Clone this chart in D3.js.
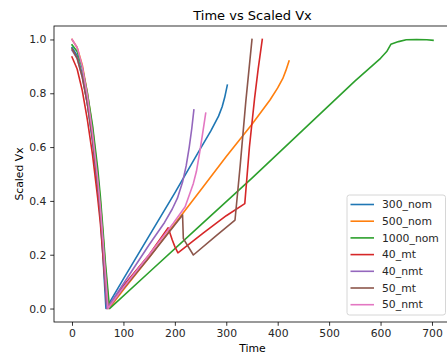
<!DOCTYPE html>
<html>
<head>
<meta charset="utf-8">
<script src="https://cdn.jsdelivr.net/npm/d3@7"></script>
<style>
  body { margin: 0; background: #fff; }
  svg { font-family: "DejaVu Sans", sans-serif; }
</style>
</head>
<body>
<div id="chart"></div>
<script>
// series names, in legend order
var seriesNames = ["300_nom", "500_nom", "1000_nom", "40_mt", "40_nmt", "50_mt", "50_nmt"];
var seriesColors = ["#1f77b4", "#ff7f0e", "#2ca02c", "#d62728", "#9467bd", "#8c564b", "#e377c2"];

// [time, scaled vx]
var nom300 = [[0,0.97],[10,0.94],[20,0.87],[30,0.76],[40,0.62],[50,0.44],[55,0.34],[60,0.2],[66,0],
  [100,0.11],[150,0.27],[200,0.43],[250,0.595],[270,0.66],[285,0.715],[292,0.75],[297,0.785],[302,0.83]];
var nom500 = [[0,1.0],[10,0.97],[20,0.905],[30,0.8],[40,0.67],[50,0.5],[55,0.4],[60,0.28],[65,0.15],[72,0],
  [100,0.07],[150,0.19],[200,0.315],[250,0.44],[300,0.565],[350,0.685],[385,0.775],[400,0.82],[410,0.855],[416,0.885],[422,0.92]];
var nom1000 = [[0,0.98],[10,0.955],[20,0.895],[30,0.8],[40,0.68],[50,0.52],[55,0.42],[60,0.3],[65,0.17],[73,0],
  [150,0.135],[250,0.31],[350,0.485],[450,0.665],[550,0.845],[600,0.93],[612,0.955],[620,0.982],[635,0.992],[650,0.999],[670,1.0],[690,0.999],[702,0.997]];
var mt40 = [[0,0.935],[10,0.89],[20,0.81],[30,0.7],[40,0.57],[50,0.41],[55,0.32],[60,0.2],[68,0],
  [100,0.085],[150,0.2],[187,0.3],[195,0.255],[200,0.23],[206,0.207],[255,0.28],[300,0.345],[336,0.39],[345,0.6],[355,0.78],[362,0.89],[370,1.0]];
var nmt40 = [[0,0.96],[10,0.93],[20,0.86],[30,0.76],[40,0.63],[50,0.46],[55,0.36],[60,0.24],[68,0],
  [100,0.092],[150,0.237],[180,0.32],[195,0.37],[205,0.41],[215,0.47],[222,0.53],[228,0.6],[233,0.67],[237,0.738]];
var mt50 = [[0,0.965],[10,0.93],[20,0.86],[30,0.76],[40,0.63],[50,0.46],[55,0.36],[60,0.24],[70,0],
  [100,0.075],[150,0.19],[215,0.348],[216.5,0.26],[236,0.199],[280,0.27],[317,0.329],[327,0.53],[338,0.77],[350,1.0]];
var nmt50 = [[0,1.0],[10,0.97],[20,0.9],[30,0.79],[40,0.65],[50,0.48],[55,0.38],[60,0.26],[70,0],
  [100,0.078],[150,0.2],[197,0.317],[220,0.378],[236,0.465],[242,0.51],[248,0.577],[254,0.65],[260,0.726]];

var seriesValues = [nom300, nom500, nom1000, mt40, nmt40, mt50, nmt50];

var xTicks = [0, 100, 200, 300, 400, 500, 600, 700];
var yTicks = [0.0, 0.2, 0.4, 0.6, 0.8, 1.0];

var width = 447, height = 356;
var margin = {top: 26, left: 54, right: 451, bottom: 322};
var fontSize = "10.8px";

var svg = d3.select("#chart")
    .append("svg")
    .attr("width", width)
    .attr("height", height);

var x = d3.scaleLinear().domain([-35, 737]).range([margin.left, margin.right]);
var y = d3.scaleLinear().domain([-0.05, 1.05]).range([margin.bottom, margin.top]);

// lines
var line = d3.line()
    .x(function (d) { return x(d[0]); })
    .y(function (d) { return y(d[1]); });

var plot = svg.append("g");
seriesValues.forEach(function (vals, i) {
    plot.append("path")
        .datum(vals)
        .attr("d", line)
        .attr("fill", "none")
        .attr("stroke", seriesColors[i])
        .attr("stroke-width", 1.6)
        .attr("stroke-linejoin", "round")
        .attr("stroke-linecap", "square");
});

// axes
var xAxis = svg.append("g")
    .attr("transform", "translate(0," + margin.bottom + ")")
    .call(d3.axisBottom(x).tickValues(xTicks).tickSize(3.8).tickPadding(3.8).tickFormat(d3.format("d")));
var yAxis = svg.append("g")
    .attr("transform", "translate(" + margin.left + ",0)")
    .call(d3.axisLeft(y).tickValues(yTicks).tickSize(3.8).tickPadding(3.8).tickFormat(d3.format(".1f")));

[xAxis, yAxis].forEach(function (ax) {
    ax.select(".domain").remove();
    ax.selectAll("line").attr("stroke", "#000").attr("stroke-width", 0.8);
    ax.selectAll("text").attr("fill", "#262626").style("font-size", fontSize)
        .style("font-family", "DejaVu Sans, sans-serif");
});

// spines
svg.append("rect")
    .attr("x", margin.left)
    .attr("y", margin.top)
    .attr("width", margin.right - margin.left)
    .attr("height", margin.bottom - margin.top)
    .attr("fill", "none")
    .attr("stroke", "#000")
    .attr("stroke-width", 0.8);

// title and labels
svg.append("text")
    .attr("x", (margin.left + margin.right) / 2)
    .attr("y", 19.5)
    .attr("text-anchor", "middle")
    .style("font-size", "13px")
    .text("Time vs Scaled Vx");

svg.append("text")
    .attr("x", (margin.left + margin.right) / 2)
    .attr("y", 352)
    .attr("text-anchor", "middle")
    .style("font-size", fontSize)
    .text("Time");

svg.append("text")
    .attr("transform", "translate(22.5," + ((margin.top + margin.bottom) / 2) + ") rotate(-90)")
    .attr("text-anchor", "middle")
    .style("font-size", fontSize)
    .text("Scaled Vx");

// legend
var legend = svg.append("g").attr("transform", "translate(347,195)");
legend.append("rect")
    .attr("width", 98.5)
    .attr("height", 120)
    .attr("rx", 2.5)
    .attr("fill", "#fff")
    .attr("fill-opacity", 0.8)
    .attr("stroke", "#cccccc")
    .attr("stroke-width", 0.8);

seriesNames.forEach(function (name, i) {
    var row = legend.append("g").attr("transform", "translate(0," + (9.5 + i * 16.7) + ")");
    row.append("line")
        .attr("x1", 3.5).attr("x2", 27)
        .attr("stroke", seriesColors[i])
        .attr("stroke-width", 1.6);
    row.append("text")
        .attr("x", 35)
        .attr("dy", "0.35em")
        .style("font-size", fontSize)
        .attr("fill", "#262626")
        .text(name);
});
</script>
</body>
</html>
